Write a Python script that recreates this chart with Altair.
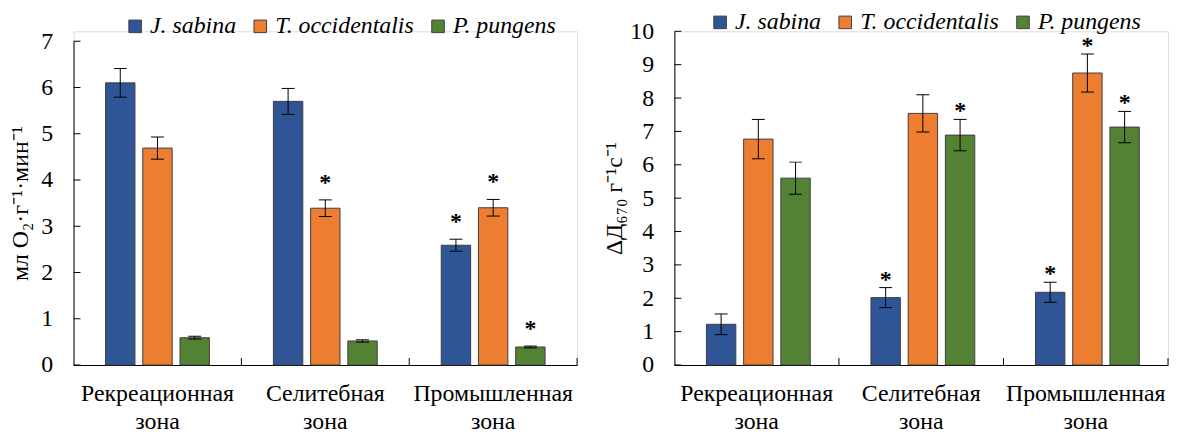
import altair as alt
import pandas as pd

zones = ["Рекреационная|зона", "Селитебная|зона", "Промышленная|зона"]
species = ["J. sabina", "T. occidentalis", "P. pungens"]
colors = ["#2F5597", "#ED7D31", "#548235"]

# Left panel: мл O2·г-1·мин-1
o2_sabina = [6.10, 5.70, 2.59]
o2_sabina_err = [0.31, 0.28, 0.13]
o2_occ = [4.69, 3.39, 3.40]
o2_occ_err = [0.24, 0.18, 0.18]
o2_pung = [0.59, 0.52, 0.39]
o2_pung_err = [0.03, 0.025, 0.02]
o2_sig_sabina = [0, 0, 1]
o2_sig_occ = [0, 1, 1]
o2_sig_pung = [0, 0, 1]

# Right panel: ΔД670 г-1с-1
d_sabina = [1.22, 2.02, 2.18]
d_sabina_err = [0.31, 0.30, 0.30]
d_occ = [6.77, 7.54, 8.75]
d_occ_err = [0.59, 0.56, 0.57]
d_pung = [5.60, 6.89, 7.13]
d_pung_err = [0.48, 0.47, 0.47]
d_sig_sabina = [0, 1, 1]
d_sig_occ = [0, 0, 1]
d_sig_pung = [0, 1, 1]

left_ticks = [0, 1, 2, 3, 4, 5, 6, 7]
right_ticks = [0, 1, 2, 3, 4, 5, 6, 7, 8, 9, 10]

FONT = "Liberation Serif"


def build_df(vals, errs, sigs):
    rows = []
    for sp, v, e, s in zip(species, vals, errs, sigs):
        for z, vv, ee, ss in zip(zones, v, e, s):
            rows.append({"zone": z, "species": sp, "value": vv,
                         "lo": vv - ee, "hi": vv + ee, "sig": ss})
    return pd.DataFrame(rows)


df_left = build_df([o2_sabina, o2_occ, o2_pung],
                   [o2_sabina_err, o2_occ_err, o2_pung_err],
                   [o2_sig_sabina, o2_sig_occ, o2_sig_pung])
df_right = build_df([d_sabina, d_occ, d_pung],
                    [d_sabina_err, d_occ_err, d_pung_err],
                    [d_sig_sabina, d_sig_occ, d_sig_pung])


def panel(df, ymax, ticks, width, height, yrange, title, title_pad, legx, legy, star_dy):
    base = alt.Chart(df)
    xaxis = alt.Axis(title=None, labelExpr="split(datum.label, '|')", labelAngle=0,
                     ticks=False, tickSize=0, labelPadding=17, labelFontSize=24,
                     labelLineHeight=28, labelBaseline="top", labelColor="black",
                     labelFont=FONT, domainColor="black", domainWidth=1)
    xscale = alt.Scale(paddingInner=0, paddingOuter=0)
    x = alt.X("zone:N", sort=zones, axis=xaxis, scale=xscale)
    xo = alt.XOffset("species:N", sort=species,
                     scale=alt.Scale(paddingInner=0.21, paddingOuter=0.86))
    yscale = alt.Scale(domain=[0, ymax], nice=False, zero=True, range=yrange)
    yaxis = alt.Axis(title=title, values=ticks, ticks=False, tickSize=0, labelPadding=21,
                     grid=False, labelFontSize=24, labelFont=FONT, labelColor="black",
                     titleFont=FONT, titleFontSize=24, titleFontWeight="normal",
                     titleColor="black", titlePadding=title_pad, domainColor="black",
                     domainWidth=1)

    def Y(f):
        return alt.Y(f, scale=yscale, axis=yaxis)

    color = alt.Color("species:N", sort=species,
                      scale=alt.Scale(domain=species, range=colors),
                      legend=alt.Legend(title=None, orient="none", legendX=legx, legendY=legy,
                                        direction="horizontal", symbolType="square",
                                        symbolSize=160, symbolStrokeColor="#404040",
                                        symbolStrokeWidth=1, symbolOpacity=1,
                                        labelFont=FONT, labelFontStyle="italic",
                                        labelFontSize=24, labelOffset=3, columnPadding=12,
                                        labelColor="black", labelLimit=300))
    bars = base.mark_bar(stroke="#404040", strokeWidth=1, opacity=1).encode(
        x=x, xOffset=xo, y=Y("value:Q"), color=color)
    err = base.mark_rule(color="black", strokeWidth=1).encode(
        x=x, xOffset=xo, y=Y("lo:Q"), y2="hi:Q")
    cap_hi = base.mark_tick(color="black", size=13, thickness=1, opacity=1).encode(
        x=x, xOffset=xo, y=Y("hi:Q"))
    cap_lo = base.mark_tick(color="black", size=13, thickness=1, opacity=1).encode(
        x=x, xOffset=xo, y=Y("lo:Q"))
    stars = base.transform_filter("datum.sig == 1").mark_text(
        text="*", font=FONT, fontSize=24, fontWeight="bold", baseline="alphabetic",
        dy=star_dy, color="black").encode(x=x, xOffset=xo, y=Y("hi:Q"))
    xticks = alt.Chart(pd.DataFrame({"zone": zones})).mark_rule(
        color="black", strokeWidth=1).encode(
        x=alt.X("zone:N", sort=zones, bandPosition=1, axis=xaxis, scale=xscale),
        y=alt.value(height), y2=alt.value(height - 7))
    yticks = alt.Chart(pd.DataFrame({"t": ticks})).mark_rule(
        color="black", strokeWidth=1).encode(
        y=Y("t:Q"), x=alt.value(0), x2=alt.value(7))
    return alt.layer(bars, err, cap_hi, cap_lo, stars, xticks, yticks).properties(
        width=width, height=height)


H = 336
left = panel(df_left, 7, left_ticks, 507, H, [H, 10], "мл O₂·г⁻¹·мин⁻¹", 8, 50, -17, -10)
right = panel(df_right, 10, right_ticks, 497, H, [H, 0], "ΔД₆₇₀ г⁻¹с⁻¹", 3, 34, -21, -1)

chart = alt.hconcat(left, right, spacing=98, bounds="flush").resolve_legend(
    color="independent").properties(
    padding={"left": 0, "top": 0, "right": 0, "bottom": 0}
).configure_view(strokeWidth=0, stroke="transparent").configure(background="white")

chart.save("out.html", embed_options={"renderer": "svg", "actions": False})
